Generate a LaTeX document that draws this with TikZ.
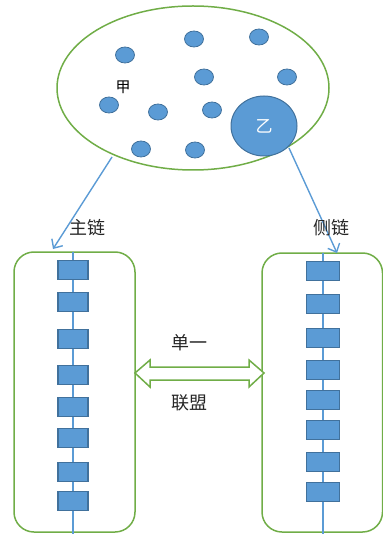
\documentclass[tikz,border=0pt]{standalone}
\usepackage{fontspec}
\setmainfont{Noto Sans CJK SC}
\usetikzlibrary{arrows.meta,shapes.geometric}
\definecolor{blu}{HTML}{5B9BD5}
\definecolor{blud}{HTML}{41719C}
\definecolor{grn}{HTML}{70AD47}
\begin{document}
\begin{tikzpicture}[x=1pt,y=-1pt,
  dot/.style={ellipse,draw=blud,fill=blu,line width=0.8pt,inner sep=0pt,minimum width=19pt,minimum height=16pt},
  blk/.style={rectangle,draw=blud,fill=blu,line width=1.2pt,inner sep=0pt,minimum width=30pt,minimum height=19pt},
  blkr/.style={blk,minimum width=33pt},
  chainbox/.style={draw=grn,line width=1.5pt,rounded corners=20pt},
  link/.style={draw=blu,line width=1.4pt},
  conn/.style={draw=blu,line width=1.4pt,-{Straight Barb[length=7pt,width=13pt]}},
  lab/.style={font=\fontsize{18}{18}\selectfont,text=black!85}]
\useasboundingbox (0,0) rectangle (382,534);
% top ellipse
\node[ellipse,draw=grn,line width=1.5pt,minimum width=272pt,minimum height=164pt] (E) at (193,88) {};
\node[dot] (d1) at (125,55) {};
\node[dot] (d2) at (194,39) {};
\node[dot] (d3) at (259,37) {};
\node[dot] (d4) at (204,77) {};
\node[dot] (d5) at (287,77) {};
\node[dot] (d6) at (109,105) {};
\node[dot] (d7) at (158,112) {};
\node[dot] (d8) at (212,110) {};
\node[dot] (d9) at (141,149) {};
\node[dot] (d10) at (195,150) {};
\node[lab,font=\fontsize{15}{15}\selectfont,text=black] (jia) at (123,87) {甲};
\node[ellipse,draw=blud,fill=blu,line width=1pt,minimum width=66pt,minimum height=60pt,text=white,font=\fontsize{17}{17}\selectfont] (yi) at (264,126) {乙};
% chain boxes
\draw[chainbox] (14,252) rectangle (135,532);
\draw[chainbox] (262,253) rectangle (382.5,532);
\coordinate (lt) at (73,252);
\coordinate (lb) at (73,534);
\coordinate (rt) at (323,253);
\coordinate (rb) at (323,534);
\draw[link] (lt) -- (lb);
\draw[link] (rt) -- (rb);
\foreach \y [count=\i] in {270,302,339,375,407,438,472,501}
  \node[blk] (L\i) at (73,\y) {};
\foreach \y [count=\i] in {271,304,338,370,400,430,462,492}
  \node[blkr] (R\i) at (323,\y) {};
% arrows from ellipse
\coordinate (la) at (112,157);
\coordinate (lae) at (53,249);
\coordinate (ra) at (289,148);
\coordinate (rae) at (337,253);
\draw[conn] (la) -- (lae);
\draw[conn] (ra) -- (rae);
\node[lab] (zhu) at (87,228) {主链};
\node[lab] (ce) at (331,228) {侧链};
% double arrow
\draw[draw=grn,fill=white,line width=1.5pt,line join=miter]
  (135,373) -- (150,360) -- (150,367) -- (249,367) -- (249,360) -- (264,373)
  -- (249,387) -- (249,380) -- (150,380) -- (150,387) -- cycle;
\node[lab] (dy) at (189,343) {单一};
\node[lab] (lm) at (189,403) {联盟};
\end{tikzpicture}
\end{document}
